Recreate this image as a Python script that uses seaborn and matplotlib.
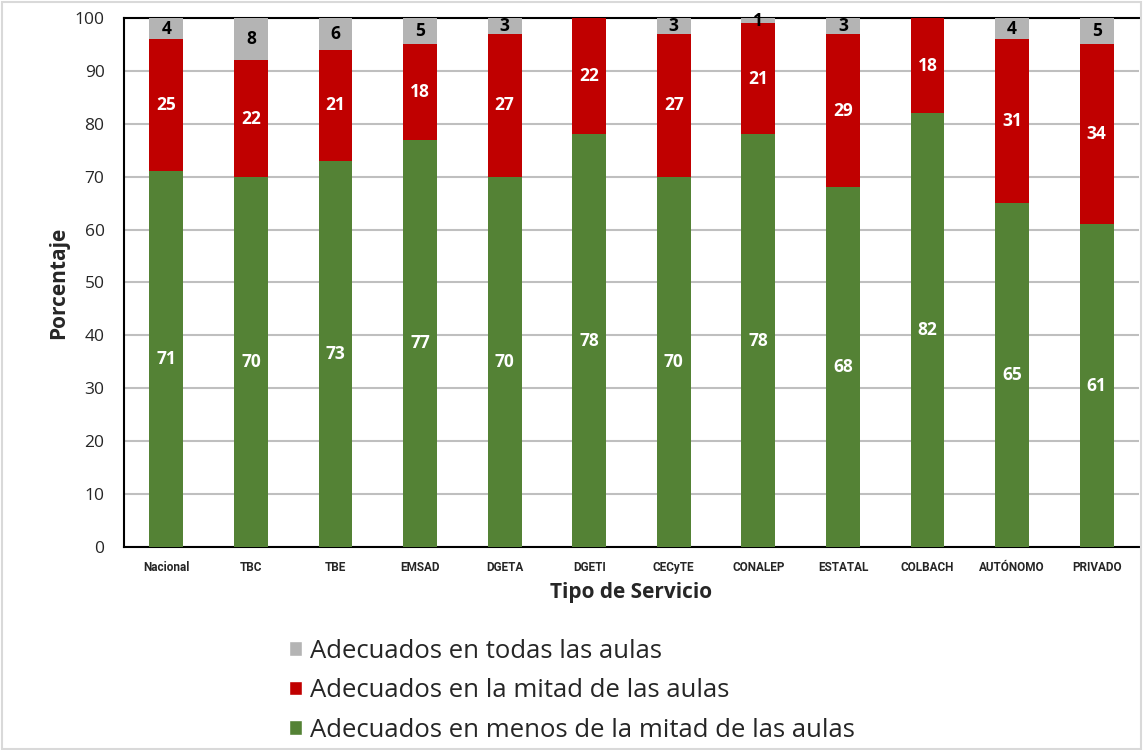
import pandas as pd
import matplotlib.pyplot as plt
import seaborn as sns
from matplotlib.patches import Rectangle, Patch

# datos
servicios = ["Nacional", "TBC", "TBE", "EMSAD", "DGETA", "DGETI", "CECyTE",
             "CONALEP", "ESTATAL", "COLBACH", "AUTÓNOMO", "PRIVADO"]
menos_mitad = [71, 70, 73, 77, 70, 78, 70, 78, 68, 82, 65, 61]
mitad = [25, 22, 21, 18, 27, 22, 27, 21, 29, 18, 31, 34]
todas = [4, 8, 6, 5, 3, 0, 3, 1, 3, 0, 4, 5]

etiquetas = ["Adecuados en todas las aulas",
             "Adecuados en la mitad de las aulas",
             "Adecuados en menos de la mitad de las aulas"]
colores = ["#B4B4B4", "#C00000", "#548235"]

df = pd.DataFrame({"servicio": servicios, "verde": menos_mitad,
                   "rojo": mitad, "gris": todas})
df["tope_rojo"] = df["verde"] + df["rojo"]
df["tope_gris"] = df["tope_rojo"] + df["gris"]

sns.set_style("white")
plt.rcParams['font.family'] = ['Open Sans', 'DejaVu Sans']

fig = plt.figure(figsize=(11.43, 7.5), dpi=100)
ax = fig.add_axes([0.1085, 0.2707, 0.888, 0.7053])

# barras apiladas (acumuladas)
for col, c in zip(["tope_gris", "tope_rojo", "verde"], colores):
    sns.barplot(data=df, x="servicio", y=col, color=c, width=0.4,
                saturation=1, linewidth=0, ax=ax, zorder=3)

# valores
for i, row in df.iterrows():
    ax.text(i, row["verde"] / 2, str(row["verde"]), ha="center", va="center",
            color="white", fontsize=12.5, fontweight="bold", zorder=5)
    ax.text(i, row["verde"] + row["rojo"] / 2, str(row["rojo"]), ha="center",
            va="center", color="white", fontsize=12.5, fontweight="bold", zorder=5)
    if row["gris"] > 0:
        ax.text(i, row["tope_rojo"] + row["gris"] / 2, str(row["gris"]),
                ha="center", va="center", color="black", fontsize=12.5,
                fontweight="bold", zorder=5)

ax.set_ylim(0, 100)
ax.set_xlim(-0.5, len(servicios) - 0.5)
ax.set_yticks(range(0, 101, 10))
ax.yaxis.grid(True, color="#BFBFBF", linewidth=1.5, zorder=0)
ax.set_axisbelow(True)
for s in ["left", "bottom", "top"]:
    ax.spines[s].set_color("black")
    ax.spines[s].set_linewidth(1.5)
ax.spines["right"].set_visible(False)

ax.tick_params(axis="y", labelsize=12.5, length=0, pad=14)
ax.tick_params(axis="x", length=0, pad=10)
for lbl in ax.get_xticklabels():
    lbl.set_family(['Liberation Sans Narrow', 'Roboto', 'DejaVu Sans'])
    lbl.set_fontweight("bold")
    lbl.set_fontsize(8.5)

ax.set_xlabel("Tipo de Servicio", fontsize=15, fontweight="bold", labelpad=6)
ax.set_ylabel("Porcentaje", fontsize=15, fontweight="bold", labelpad=4)

handles = [Patch(facecolor=c, label=l) for c, l in zip(colores, etiquetas)]
fig.legend(handles=handles, loc="upper left", bbox_to_anchor=(0.244, 0.162),
           frameon=False, fontsize=18.5, handlelength=0.5, handleheight=0.5,
           handletextpad=0.3, labelspacing=0.56, borderaxespad=0)

# marco de la figura
fig.patches.append(Rectangle((0.002, 0.002), 0.996, 0.996, transform=fig.transFigure,
                             fill=False, edgecolor="#D9D9D9", linewidth=1.5))

plt.savefig("out.png", dpi=100)
plt.close()
